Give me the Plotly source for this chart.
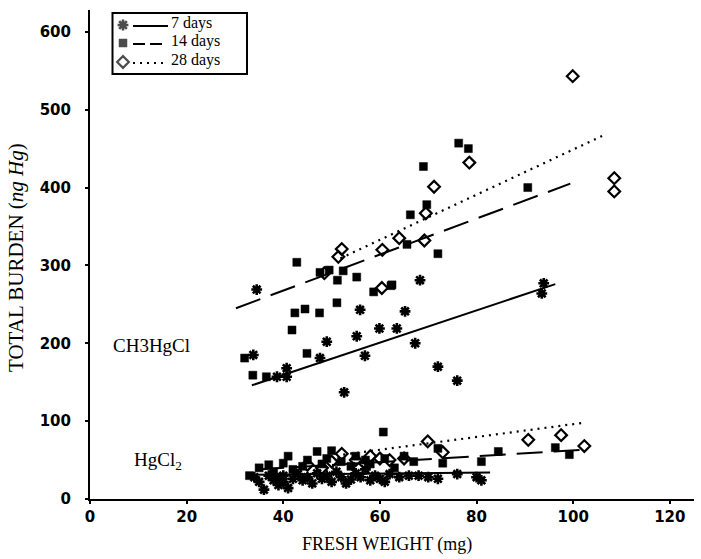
import plotly.graph_objects as go

# ---------------- data ----------------
# CH3HgCl group
ch3_7d_x = [34.5, 33.8, 38.7, 40.7, 40.7, 49.0, 47.6, 52.6, 55.9, 55.2, 56.9, 59.9, 63.5, 65.2, 67.3, 68.3, 72.0, 76.0, 93.9, 93.5]
ch3_7d_y = [269, 185, 157, 168, 157, 202, 181, 137, 243, 209, 184, 219, 219, 241, 200, 281, 170, 152, 277, 264]

ch3_14d_x = [32.0, 33.7, 36.5, 41.8, 42.4, 44.5, 47.5, 51.1, 42.8, 44.9, 47.6, 49.5, 51.2, 52.4, 55.2, 58.7, 62.3, 62.5, 65.6, 66.3, 69.7, 69.0, 72.0, 76.3, 78.3, 90.6]
ch3_14d_y = [181, 159, 157, 217, 239, 244, 239, 252, 304, 187, 291, 294, 281, 293, 285, 266, 274, 275, 327, 365, 378, 427, 315, 457, 450, 400]

ch3_28d_x = [52.1, 51.4, 48.5, 60.4, 60.5, 64.0, 69.2, 69.5, 71.2, 78.5, 99.9, 108.5, 108.5]
ch3_28d_y = [321, 311, 290, 271, 320, 335, 332, 367, 401, 432, 543, 412, 395]

# HgCl2 group
hg_7d_x = [34, 35, 36, 37, 38, 39, 40, 40, 41, 42, 43, 44, 45, 46, 47, 48, 49, 50, 51, 52, 53, 54, 55, 56, 57, 58, 59, 60, 61, 62, 64, 66, 68, 70, 72, 76, 80, 81]
hg_7d_y = [28, 22, 12, 30, 24, 18, 30, 22, 14, 26, 32, 24, 28, 20, 33, 26, 30, 22, 35, 28, 20, 25, 33, 28, 38, 24, 30, 26, 22, 32, 28, 30, 30, 28, 26, 32, 28, 24]

hg_14d_x = [33, 35, 37, 38, 39, 40, 41, 42, 44, 45, 47, 48, 49, 50, 52, 54, 55, 57, 58, 60.7, 61, 63, 65, 67, 72, 73, 81, 84.5, 96.3, 99.2]
hg_14d_y = [30, 40, 44, 35, 28, 46, 55, 38, 42, 50, 61, 45, 52, 62, 48, 42, 55, 50, 45, 86, 52, 40, 55, 48, 65, 46, 48, 61, 66, 57]

hg_28d_x = [45, 48, 50, 52.1, 55, 57, 58, 60, 62, 65, 69.9, 73.0, 90.7, 97.5, 102.3]
hg_28d_y = [44, 40, 48, 58, 50, 45, 55, 52, 50, 52, 74, 60, 76, 82, 68]

# regression lines (end points)
line_ch3_7d_x, line_ch3_7d_y = [33.5, 96.3], [146, 276]
line_ch3_14d_x, line_ch3_14d_y = [30.2, 99.4], [245, 405]
line_ch3_28d_x, line_ch3_28d_y = [51.8, 106.6], [309, 468]
line_hg_7d_x, line_hg_7d_y = [32.8, 82.8], [31, 34]
line_hg_14d_x, line_hg_14d_y = [34.8, 101.4], [38, 63]
line_hg_28d_x, line_hg_28d_y = [52.4, 102.3], [57, 98]

x_ticks = [0, 20, 40, 60, 80, 100, 120]
y_ticks = [0, 100, 200, 300, 400, 500, 600]
legend_labels = ["7 days", "14 days", "28 days"]

# ---------------- figure ----------------
fig = go.Figure()

star = dict(symbol="asterisk-open", size=9, color="black", line=dict(color="black", width=2.6))
square = dict(symbol="square", size=8, color="black", line=dict(color="black", width=0.5))
diamond = dict(symbol="diamond-open", size=9, color="black", line=dict(color="black", width=2.2))

solid = dict(color="black", width=2)
dashed = dict(color="black", width=2, dash="26px,11px")
dotted = dict(color="black", width=2.2, dash="2px,5px")

for xs, ys, ln in [(line_ch3_7d_x, line_ch3_7d_y, solid), (line_ch3_14d_x, line_ch3_14d_y, dashed),
                   (line_ch3_28d_x, line_ch3_28d_y, dotted), (line_hg_7d_x, line_hg_7d_y, solid),
                   (line_hg_14d_x, line_hg_14d_y, dashed), (line_hg_28d_x, line_hg_28d_y, dotted)]:
    fig.add_trace(go.Scatter(x=xs, y=ys, mode="lines", line=ln, showlegend=False, hoverinfo="skip"))

for xs, ys, mk in [(ch3_14d_x, ch3_14d_y, square), (hg_14d_x, hg_14d_y, square),
                   (ch3_7d_x, ch3_7d_y, star), (hg_7d_x, hg_7d_y, star),
                   (ch3_28d_x, ch3_28d_y, diamond), (hg_28d_x, hg_28d_y, diamond)]:
    fig.add_trace(go.Scatter(x=xs, y=ys, mode="markers", marker=mk, showlegend=False))

# ---------------- legend drawn in pixel space (overlay axes) ----------------
leg_rows_y = [25, 43, 62]
fig.add_trace(go.Scatter(x=[123, 123, 123], y=leg_rows_y, mode="markers",
                         marker=dict(symbol=["asterisk-open", "square", "diamond-open"],
                                     size=[9, 8, 9], color="black",
                                     line=dict(color="black", width=[2.6, 0.5, 2.2])),
                         xaxis="x2", yaxis="y2", showlegend=False, hoverinfo="skip"))
shapes = [
    dict(type="rect", xref="x2", yref="y2", x0=112.5, x1=247, y0=13, y1=74,
         line=dict(color="black", width=2), fillcolor="rgba(0,0,0,0)"),
    dict(type="line", xref="x2", yref="y2", x0=133, x1=168, y0=26, y1=26, line=solid),
    dict(type="line", xref="x2", yref="y2", x0=133, x1=167, y0=44, y1=44, line=dict(color="black", width=2, dash="12px,5px")),
    dict(type="line", xref="x2", yref="y2", x0=133, x1=166, y0=63, y1=63, line=dict(color="black", width=2.2, dash="2px,5px")),
]
annotations = []
for lbl, yy in zip(legend_labels, leg_rows_y):
    annotations.append(dict(xref="x2", yref="y2", x=169, y=yy - 2, text=lbl, showarrow=False,
                            xanchor="left", yanchor="middle",
                            font=dict(family="Liberation Serif", size=16, color="black")))

annotations += [
    dict(xref="x2", yref="y2", x=151, y=345, text="CH3HgCl", showarrow=False,
         font=dict(family="Liberation Serif", size=19, color="black")),
    dict(xref="x2", yref="y2", x=158, y=461, text="HgCl<sub>2</sub>", showarrow=False,
         font=dict(family="Liberation Serif", size=19, color="black")),
    # axis titles (paper coords; plot area spans px 90..694 x 10..499)
    dict(xref="paper", yref="paper", x=(387 - 90) / 604, y=(499 - 544) / 489,
         text="FRESH WEIGHT (mg)", showarrow=False, xanchor="center", yanchor="middle",
         font=dict(family="Liberation Serif", size=18, color="black")),
    dict(xref="paper", yref="paper", x=(16 - 90) / 604, y=(499 - 258) / 489,
         text="TOTAL BURDEN (<i>ng Hg</i>)", showarrow=False, textangle=-90,
         xanchor="center", yanchor="middle",
         font=dict(family="Liberation Serif", size=21, color="black")),
]

fig.update_layout(
    width=701, height=559,
    margin=dict(l=90, r=7, t=10, b=60),
    paper_bgcolor="white", plot_bgcolor="white",
    shapes=shapes, annotations=annotations,
    xaxis=dict(range=[0, 125], tickvals=x_ticks, ticktext=[str(v) for v in x_ticks],
               showgrid=False, zeroline=False, showline=True, linecolor="black", linewidth=2,
               ticks="outside", ticklen=3, tickwidth=2, tickcolor="black",
               tickfont=dict(family="DejaVu Sans", size=15, color="black", weight="bold")),
    yaxis=dict(range=[0, 628], tickvals=y_ticks, ticktext=[str(v) for v in y_ticks],
               showgrid=False, zeroline=False, showline=True, linecolor="black", linewidth=2,
               ticks="outside", ticklen=3, tickwidth=2, tickcolor="black", ticklabelstandoff=11,
               tickfont=dict(family="DejaVu Sans", size=15, color="black", weight="bold")),
    xaxis2=dict(range=[90, 694], overlaying="x", visible=False, fixedrange=True),
    yaxis2=dict(range=[499, 10], overlaying="y", visible=False, fixedrange=True),
)

# remove the default 8px page margin so the figure sits at the window's top-left corner
fig.write_html("out.html", config={"displayModeBar": False},
               post_script="document.body.style.margin='0px';")
